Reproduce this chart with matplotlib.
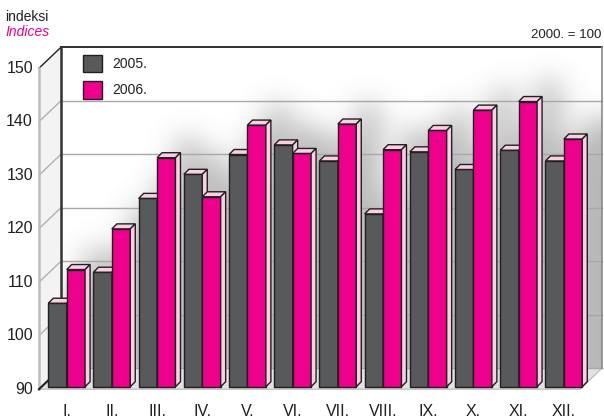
import matplotlib.pyplot as plt
import numpy as np
from matplotlib.patches import Polygon, Rectangle

plt.rcParams["font.family"] = ["Liberation Sans", "DejaVu Sans"]

# data
months = ["I.", "II.", "III.", "IV.", "V.", "VI.", "VII.", "VIII.", "IX.", "X.", "XI.", "XII."]
idx_2005 = [105.6, 111.4, 125.2, 129.7, 133.4, 135.2, 132.2, 122.3, 133.9, 130.6, 134.2, 132.2]
idx_2006 = [111.9, 119.5, 132.8, 125.5, 138.9, 133.6, 139.1, 134.3, 137.9, 141.7, 143.3, 136.3]
yticks = [90, 100, 110, 120, 130, 140, 150]
series_names = ["2005.", "2006."]

c2005 = "#58595b"
c2006 = "#ec008c"
cpink = "#f9d0e3"
cedge = "#231f20"
ctext = "#231f20"

W_FIG, H_FIG = 604, 419
fig = plt.figure(figsize=(W_FIG / 100, H_FIG / 100), dpi=100)
fig.patch.set_facecolor("white")

# axes = plane in which the bars stand
ax_l, ax_b, ax_w, ax_h = 42, 32.3, 541, 321
ax = fig.add_axes([ax_l / W_FIG, ax_b / H_FIG, ax_w / W_FIG, ax_h / H_FIG])
xmin, xmax = -0.546, 11.423
ymin, ymax = 90, 150
ax.set_xlim(xmin, xmax)
ax.set_ylim(ymin, ymax)
ax.axis("off")

pxx = ax_w / (xmax - xmin)   # pixels per x unit
pxy = ax_h / (ymax - ymin)   # pixels per y unit

# depth offsets (pixels -> data)
bx, by = 19 / pxx, 18.5 / pxy      # back wall
fx, fy = -3 / pxx, -2.5 / pxy      # front edge
dx, dy = 5 / pxx, 5 / pxy          # bar depth

x = np.arange(len(months))
w = 0.407

# back wall
ax.add_patch(Polygon([(xmin + bx, ymin + by), (xmax + bx, ymin + by),
                      (xmax + bx, ymax + by), (xmin + bx, ymax + by)],
                     closed=True, facecolor="white", edgecolor="none",
                     zorder=0, clip_on=False))

# soft shadow of the bars on the back wall
H, W = int(round(ax_h)), int(round(ax_w))
mask = np.zeros((H, W))
for i in range(len(months)):
    for x0, v in ((x[i] - w, idx_2005[i]), (x[i], idx_2006[i])):
        c0 = int((x0 - xmin) * pxx)
        c1 = int((x0 + w + dx - xmin) * pxx)
        r0 = int((ymax - v) * pxy)
        mask[r0:, c0:c1] = 1.0
sig = 14
k = np.arange(-3 * sig, 3 * sig + 1)
kern = np.exp(-k ** 2 / (2 * sig ** 2))
kern /= kern.sum()
pad = 3 * sig
m = np.pad(mask, pad, mode="edge")
m = np.apply_along_axis(lambda r: np.convolve(r, kern, mode="same"), 1, m)
m = np.apply_along_axis(lambda r: np.convolve(r, kern, mode="same"), 0, m)
m = m[pad:-pad, pad:-pad]
rgba = np.zeros((H, W, 4))
rgba[..., :3] = 0.45
rgba[..., 3] = 0.5 * m
ax.imshow(rgba, extent=(xmin + bx, xmax + bx, ymin + by, ymax + by),
          aspect="auto", zorder=0.5, clip_on=False, interpolation="bilinear")
ax.set_xlim(xmin, xmax)
ax.set_ylim(ymin, ymax)

# left wall
ax.add_patch(Polygon([(xmin + fx, ymin + fy), (xmin + fx, ymax + fy),
                      (xmin + bx, ymax + by), (xmin + bx, ymin + by)],
                     closed=True, facecolor="#f3f3f3", edgecolor="none",
                     zorder=0.6, clip_on=False))

# floor
ax.add_patch(Polygon([(xmin + fx, ymin + fy), (xmax + fx, ymin + fy),
                      (xmax + bx, ymin + by), (xmin + bx, ymin + by)],
                     closed=True, facecolor="#e2e2e2", edgecolor="#b8b8b8",
                     linewidth=0.8, zorder=0.7, clip_on=False))

# grid lines on back and left wall
for t in yticks:
    if t < 150:
        ax.plot([xmin + bx, xmax + bx], [t + by, t + by], color="#a8a8a8",
                lw=1, zorder=0.8, clip_on=False)
    ax.plot([xmin + fx, xmin + bx], [t + fy, t + by],
            color="#b0b0b0" if t < 150 else cedge, lw=1, zorder=0.8, clip_on=False)
    ax.text(xmin + fx - 6 / pxx, t + fy, str(t), ha="right", va="center",
            fontsize=11.5, color=ctext)

# frame lines
ax.plot([xmin + bx, xmax + bx], [ymax + by, ymax + by], color=cedge, lw=1.3,
        zorder=0.9, clip_on=False)
ax.plot([xmin + bx, xmin + bx], [ymin + by, ymax + by], color="#333333", lw=1.8,
        zorder=0.9, clip_on=False)
ax.plot([xmax + bx, xmax + bx], [ymin + by, ymax + by], color="#8a8a8a", lw=1.2,
        zorder=0.9, clip_on=False)
ax.plot([xmin + fx, xmin + fx], [ymin + fy, ymax + fy], color="#bdbdbd", lw=1.8,
        zorder=0.9, clip_on=False)
ax.plot([xmin + fx, xmin + bx], [ymin + fy, ymin + by], color=cedge, lw=1.5,
        zorder=0.9, clip_on=False)


def bar3d(x0, v, color, z):
    ax.bar(x0, v - ymin, w, bottom=ymin, align="edge", color=color,
           edgecolor=cedge, linewidth=1, zorder=z, clip_on=False)
    x1 = x0 + w
    ax.add_patch(Polygon([(x0, v), (x0 + dx, v + dy), (x1 + dx, v + dy), (x1, v)],
                         closed=True, facecolor=cpink, edgecolor=cedge,
                         linewidth=1, zorder=z, clip_on=False))
    ax.add_patch(Polygon([(x1, ymin), (x1, v), (x1 + dx, v + dy), (x1 + dx, ymin + dy)],
                         closed=True, facecolor=cpink, edgecolor=cedge,
                         linewidth=1, zorder=z, clip_on=False))


for i in range(len(months)):
    bar3d(x[i] - w, idx_2005[i], c2005, 2 + 2 * i)
    bar3d(x[i], idx_2006[i], c2006, 3 + 2 * i)
    ax.text(x[i], ymin - (411 - 386.7) / pxy, months[i], ha="center", va="center",
            fontsize=11.5, color=ctext)

# legend
for j, (name, col) in enumerate(zip(series_names, [c2005, c2006])):
    top = 55 + j * 26.5
    fig.patches.append(Rectangle((83 / W_FIG, (H_FIG - top - 17.5) / H_FIG),
                                 18.5 / W_FIG, 17.5 / H_FIG, transform=fig.transFigure,
                                 facecolor=col, edgecolor=cedge, linewidth=1))
    fig.text(112 / W_FIG, (H_FIG - top - 8.5) / H_FIG, name, ha="left", va="center",
             fontsize=10, color=ctext)

# header texts
fig.text(5 / W_FIG, (H_FIG - 21) / H_FIG, "indeksi", ha="left", va="baseline",
         fontsize=10, color=ctext)
fig.text(5 / W_FIG, (H_FIG - 36) / H_FIG, "Indices", ha="left", va="baseline",
         fontsize=10, color=c2006, style="italic")
fig.text(601 / W_FIG, (H_FIG - 38) / H_FIG, "2000. = 100", ha="right", va="baseline",
         fontsize=9.5, color=ctext)

fig.savefig("out.png", dpi=100)
